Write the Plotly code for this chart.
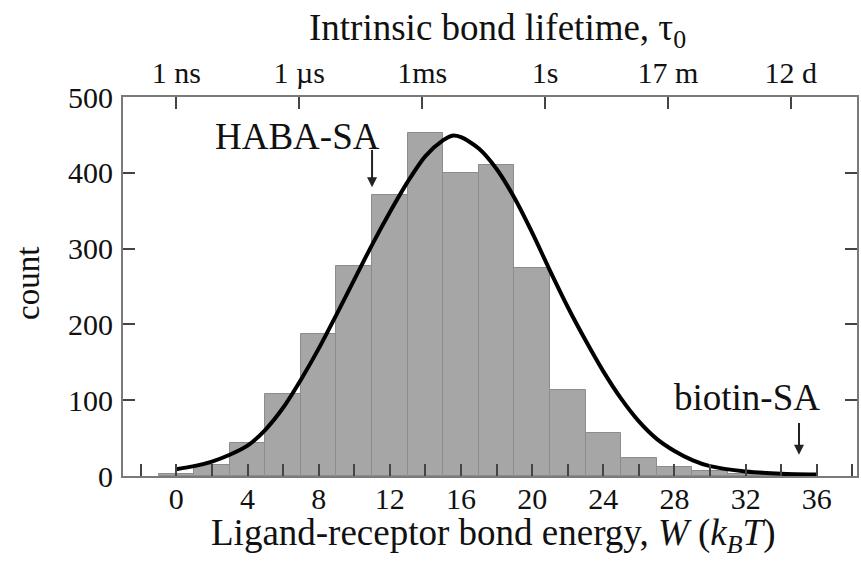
import plotly.graph_objects as go

# ---- data ----
bin_centers = [0, 2, 4, 6, 8, 10, 12, 14, 16, 18, 20, 22, 24, 26, 28, 30, 32, 34]
counts = [2, 14, 43, 108, 187, 277, 371, 453, 400, 410, 274, 114, 57, 24, 12, 6, 3, 2]
bin_width = 2

fit_W = [0, 1, 2, 3, 4, 5, 6, 7, 8, 9, 10, 11, 12, 13, 14, 15, 15.5, 16, 17, 18,
         19, 20, 21, 22, 23, 24, 25, 26, 27, 28, 29, 30, 32, 34, 36]
fit_count = [9, 13, 19, 28, 40, 61, 90, 127, 168, 213, 259, 305, 348, 388, 422, 443, 449, 447, 432, 405,
             367, 321, 271, 223, 179, 138, 102, 72, 49, 33, 21, 13, 6, 3, 2]

bottom_tick_vals = [0, 4, 8, 12, 16, 20, 24, 28, 32, 36]
bottom_tick_text = ["0", "4", "8", "12", "16", "20", "24", "28", "32", "36"]
top_tick_vals = [0, 6.91, 13.82, 20.72, 27.63, 34.54]
top_tick_text = ["1 ns", "1 µs", "1ms", "1s", "17 m", "12 d"]
y_tick_vals = [0, 100, 200, 300, 400, 500]

x_range = [-3, 38.26]
y_range = [0, 500]

FONT = "Liberation Serif, Times New Roman, serif"
AX = "#7a7a7a"
TK = "#444444"
TXT = "#111111"

fig = go.Figure()
fig.add_trace(go.Bar(
    x=bin_centers, y=counts, width=bin_width,
    marker=dict(color="#a6a6a6", line=dict(color="#8c8c8c", width=1)),
    showlegend=False, hoverinfo="skip",
))
fig.add_trace(go.Scatter(
    x=fit_W, y=fit_count, mode="lines",
    line=dict(color="black", width=4, shape="spline", smoothing=0.8),
    showlegend=False, hoverinfo="skip",
))
# invisible trace to activate the top axis
fig.add_trace(go.Scatter(x=[x_range[0]], y=[0], xaxis="x2", mode="markers",
                         marker=dict(opacity=0), showlegend=False, hoverinfo="skip"))

fig.update_layout(
    width=861, height=562,
    margin=dict(l=123, r=4, t=97, b=86),
    paper_bgcolor="white", plot_bgcolor="white",
    font=dict(family=FONT, color=TXT, size=30),
    bargap=0,
    xaxis=dict(
        range=x_range, tickmode="array", tickvals=bottom_tick_vals, ticktext=bottom_tick_text,
        ticks="inside", ticklen=12, tickwidth=2, tickcolor=TK,
        minor=dict(ticks="inside", ticklen=12, tickwidth=2, tickcolor=TK, tick0=0, dtick=2),
        ticklabelstandoff=-5,
        showline=True, linecolor=AX, linewidth=2, mirror=False,
        showgrid=False, zeroline=False, automargin=False,
        tickfont=dict(size=30, family=FONT, color=TXT),
    ),
    xaxis2=dict(
        range=x_range, overlaying="x", side="top", anchor="y",
        tickmode="array", tickvals=top_tick_vals, ticktext=top_tick_text,
        ticks="inside", ticklen=12, tickwidth=2, tickcolor=TK,
        showline=True, linecolor=AX, linewidth=2,
        showgrid=False, zeroline=False, automargin=False,
        tickfont=dict(size=30, family=FONT, color=TXT),
    ),
    yaxis=dict(
        range=y_range, tickmode="array", tickvals=y_tick_vals,
        ticks="inside", ticklen=12, tickwidth=2, tickcolor=TK,
        ticklabelstandoff=2,
        showline=True, linecolor=AX, linewidth=2, mirror="ticks",
        showgrid=False, zeroline=False, automargin=False,
        tickfont=dict(size=30, family=FONT, color=TXT),
    ),
)

annotations = [
    dict(text="Intrinsic bond lifetime, τ<sub>0</sub>", xref="paper", yref="paper",
         x=0.51, y=(476 - 30) / 379, xanchor="center", yanchor="middle",
         showarrow=False, font=dict(size=37, family=FONT, color=TXT)),
    dict(text="Ligand-receptor bond energy, <i>W</i> (<i>k</i><sub><i>B</i></sub><i>T</i>)",
         xref="paper", yref="paper", x=0.505, y=(476 - 535) / 379,
         xanchor="center", yanchor="middle", showarrow=False, font=dict(size=37, family=FONT, color=TXT)),
    dict(text="count", xref="paper", yref="paper", x=(28 - 123) / 734, y=(476 - 284) / 379,
         xanchor="center", yanchor="middle", textangle=-90, showarrow=False,
         font=dict(size=33, family=FONT, color=TXT)),
    dict(text="HABA-SA", xref="x", yref="y", x=6.8, y=448, xanchor="center", yanchor="middle",
         showarrow=False, font=dict(size=37, family=FONT, color=TXT)),
    dict(text="", xref="x", yref="y", x=11, y=381, ax=11, ay=432, axref="x", ayref="y",
         showarrow=True, arrowhead=2, arrowsize=1, arrowwidth=2, arrowcolor="#222222"),
    dict(text="biotin-SA", xref="x", yref="y", x=32.1, y=103, xanchor="center", yanchor="middle",
         showarrow=False, font=dict(size=37, family=FONT, color=TXT)),
    dict(text="", xref="x", yref="y", x=35, y=28, ax=35, ay=72, axref="x", ayref="y",
         showarrow=True, arrowhead=2, arrowsize=1, arrowwidth=2, arrowcolor="#222222"),
]
fig.update_layout(annotations=annotations)

fig.write_html("out.html", config={"displayModeBar": False},
               post_script="document.body.style.margin='0px';")
